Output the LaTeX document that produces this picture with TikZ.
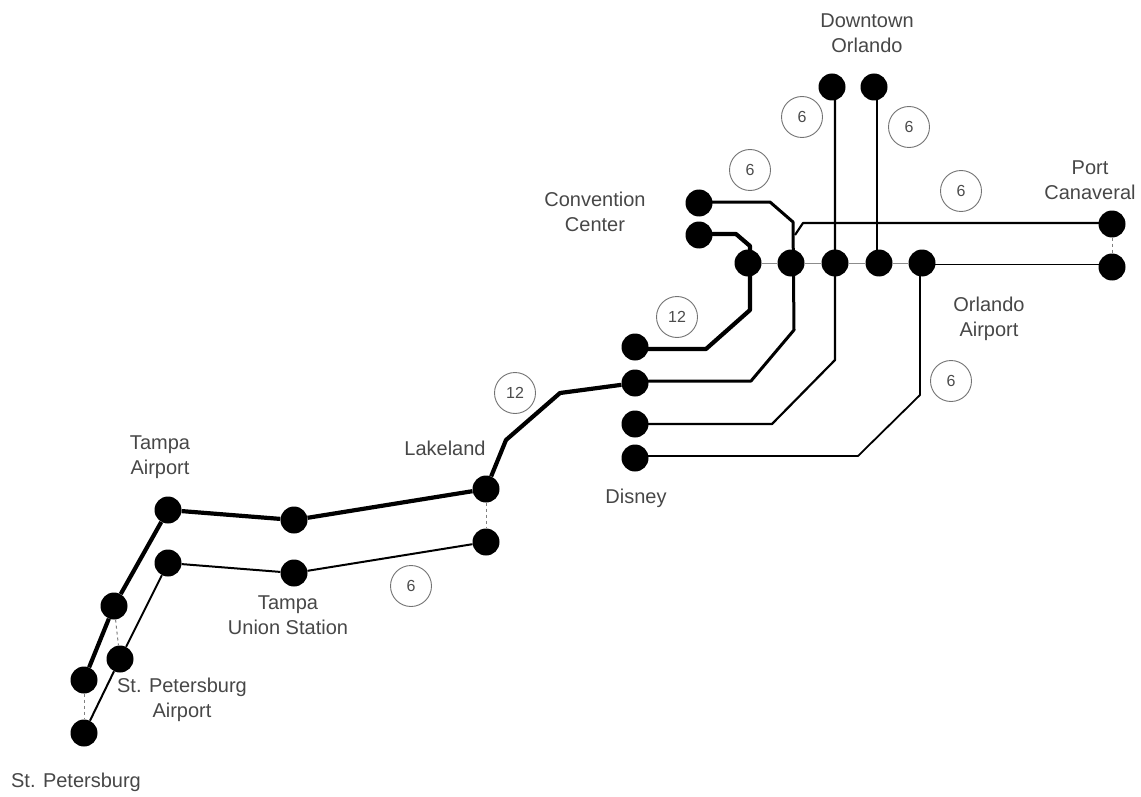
\documentclass[tikz,border=0pt]{standalone}
\usepackage{fontspec}
\setmainfont{Liberation Sans}
\begin{document}
\begin{tikzpicture}[x=1pt,y=-1pt,
  stop/.style={circle,fill=black,draw=none,inner sep=0pt,minimum size=27pt},
  badge/.style={circle,draw=black!55,line width=0.9pt,fill=white,inner sep=0pt,minimum size=41pt,font=\fontsize{16}{16}\selectfont,text=black!70},
  lab/.style={align=center,font=\fontsize{20}{25}\selectfont,text=black!72,inner sep=0pt},
  heavy/.style={line width=4.2pt,line join=round},
  mid/.style={line width=3pt,line join=round},
  light/.style={line width=2.2pt,line join=round},
  thinline/.style={line width=1.8pt,line join=round},
  link/.style={line width=1pt,black!50,dash pattern=on 3pt off 3pt},
  rowlink/.style={line width=1pt,black!45}]
\useasboundingbox (0,0) rectangle (1141,797);
% station nodes
\node[stop] (d1) at (832,87) {};
\node[stop] (d2) at (874,87) {};
\node[stop] (p1) at (1112,224) {};
\node[stop] (p2) at (1112,267) {};
\node[stop] (r1) at (748,263) {};
\node[stop] (r2) at (791,263) {};
\node[stop] (r3) at (835,263) {};
\node[stop] (r4) at (879,263) {};
\node[stop] (r5) at (922,263) {};
\node[stop] (c1) at (699,203) {};
\node[stop] (c2) at (699,235) {};
\node[stop] (l1) at (635,347) {};
\node[stop] (l2) at (635,383) {};
\node[stop] (l3) at (635,424) {};
\node[stop] (l4) at (635,458) {};
\node[stop] (k1) at (486,489) {};
\node[stop] (k2) at (486,542) {};
\node[stop] (u1) at (294,520) {};
\node[stop] (u2) at (294,573) {};
\node[stop] (a1) at (168,510) {};
\node[stop] (a2) at (168,563) {};
\node[stop] (s1) at (114,606) {};
\node[stop] (s2) at (120,659) {};
\node[stop] (t1) at (84,680) {};
\node[stop] (t2) at (84,733) {};
% bend points
\coordinate (b1) at (506,440);
\coordinate (b2) at (560,393);
\coordinate (b3) at (706,349);
\coordinate (b4) at (750,310);
\coordinate (b5) at (750,246);
\coordinate (b6) at (736,234);
\coordinate (b7) at (751,381);
\coordinate (b8) at (794,330);
\coordinate (b9) at (793,222);
\coordinate (b10) at (770,202);
\coordinate (b11) at (772,424);
\coordinate (b12) at (835,360);
\coordinate (b13) at (858,456);
\coordinate (b14) at (920,395);
\coordinate (b15) at (920,263);
\coordinate (b16) at (803,223);
\coordinate (b17) at (795,235);
\coordinate (b18) at (835,87);
\coordinate (b19) at (877,87);
\coordinate (b20) at (877,263);
\coordinate (b21) at (922,264.5);
\coordinate (b22) at (1112,264.5);
% links
\draw[link] (k1) -- (k2);
\draw[link] (s1) -- (s2);
\draw[link] (t1) -- (t2);
\draw[link] (p1) -- (p2);
\draw[rowlink] (r1) -- (r2);
\draw[rowlink] (r2) -- (r3);
\draw[rowlink] (r3) -- (r4);
\draw[rowlink] (r4) -- (r5);
% lines
\draw[heavy] (k1) -- (b1) -- (b2) -- (l2);
\draw[heavy] (l1 |- b3) -- (b3) -- (b4) -- (b5) -- (b6) -- (c2 |- b6);
\draw[mid] (l2 |- b7) -- (b7) -- (b8) -- (b9) -- (b10) -- (c1 |- b10);
\draw[light] (l3 |- b11) -- (b11) -- (b12) -- (b18);
\draw[thinline] (l4 |- b13) -- (b13) -- (b14) -- (b15);
\draw[thinline] (b19) -- (b20);
\draw[thinline] (b21) -- (b22);
\draw[light] (p1 |- b16) -- (b16) -- (b17);
\draw[heavy] (t1) -- (s1) -- (a1) -- (u1) -- (k1);
\draw[line width=2pt,line join=round] (t2) -- (s2) -- (a2) -- (u2) -- (k2);
% badges
\node[badge] (n1) at (802,117) {6};
\node[badge] (n2) at (909,127) {6};
\node[badge] (n3) at (750,170) {6};
\node[badge] (n4) at (961,191) {6};
\node[badge] (n5) at (677,317) {12};
\node[badge] (n6) at (515,393) {12};
\node[badge] (n7) at (951,381) {6};
\node[badge] (n8) at (411,586) {6};
% labels
\node[lab] (t-down) at (867,33) {Downtown\\Orlando};
\node[lab] (t-port) at (1090,180) {Port\\Canaveral};
\node[lab] (t-conv) at (595,212) {Convention\\Center};
\node[lab] (t-orl) at (989,319) {Orlando\\Airport};
\node[lab] (t-dis) at (636,498) {Disney};
\node[lab] (t-lak) at (445,448) {Lakeland};
\node[lab] (t-tam) at (160,457) {Tampa\\Airport};
\node[lab] (t-uni) at (288,615) {Tampa\\Union Station};
\node[lab] (t-spa) at (182,700) {St. Petersburg\\Airport};
\node[lab] (t-stp) at (76,782) {St. Petersburg};
\end{tikzpicture}
\end{document}
